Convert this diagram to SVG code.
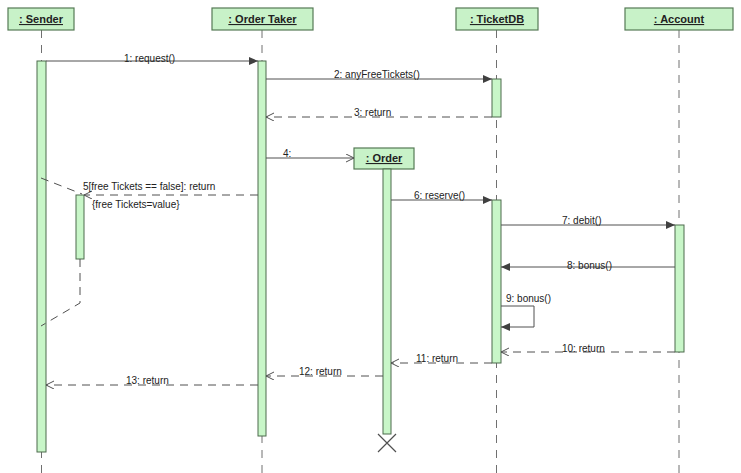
<svg xmlns="http://www.w3.org/2000/svg" width="741" height="473" viewBox="0 0 741 473">
<defs>
<style>
.hdr{fill:#c8f2c8;stroke:#557a55;stroke-width:1.2}
.act{fill:#c8f6c8;stroke:#4d6b4d;stroke-width:1}
.ll{stroke:#707070;stroke-width:1;stroke-dasharray:8,7;fill:none}
.msg{stroke:#505050;stroke-width:1;fill:none}
.ret{stroke:#505050;stroke-width:1;fill:none;stroke-dasharray:8,6}
.ht{font-family:"Liberation Sans",Arial,sans-serif;font-size:11px;font-weight:bold;text-decoration:underline;fill:#222;text-anchor:middle}
.lb{font-family:"Liberation Sans",Arial,sans-serif;font-size:10px;fill:#222}
</style>
<marker id="fill" markerWidth="10" markerHeight="10" refX="9" refY="4" orient="auto" markerUnits="userSpaceOnUse">
<path d="M0,0 L9,4 L0,8 Z" fill="#404040"/>
</marker>
<marker id="open" markerWidth="10" markerHeight="10" refX="8" refY="4" orient="auto" markerUnits="userSpaceOnUse">
<path d="M0,0 L8,4 L0,8" fill="none" stroke="#505050" stroke-width="1"/>
</marker>
</defs>
<rect width="741" height="473" fill="#ffffff"/>

<g id="sender">
<line class="ll" x1="41.5" y1="30" x2="41.5" y2="473"/>
<rect class="hdr" x="8" y="8" width="66" height="22"/>
<text class="ht" x="41" y="23">: Sender</text>
<rect class="act" x="37" y="61" width="9" height="391"/>
<rect class="act" x="76" y="195" width="8" height="64"/>
</g>

<g id="ordertaker">
<line class="ll" x1="262" y1="30" x2="262" y2="473"/>
<rect class="hdr" x="212" y="8" width="101" height="22"/>
<text class="ht" x="262.5" y="23">: Order Taker</text>
<rect class="act" x="258" y="61" width="8" height="375"/>
</g>

<g id="ticketdb">
<line class="ll" x1="496.5" y1="30" x2="496.5" y2="473"/>
<rect class="hdr" x="456" y="8" width="82" height="22"/>
<text class="ht" x="497" y="23">: TicketDB</text>
<rect class="act" x="492" y="79" width="9" height="38"/>
<rect class="act" x="492" y="200" width="9" height="163"/>
</g>

<g id="account">
<line class="ll" x1="679" y1="30" x2="679" y2="473"/>
<rect class="hdr" x="625" y="8" width="108" height="22"/>
<text class="ht" x="679" y="23">: Account</text>
<rect class="act" x="675" y="225" width="9" height="127"/>
</g>

<g id="order">
<rect class="hdr" x="354" y="148" width="60" height="21"/>
<text class="ht" x="384" y="162">: Order</text>
<rect class="act" x="383" y="169" width="8" height="265"/>
<path d="M378,434 L396,452 M396,434 L378,452" stroke="#505050" stroke-width="1.2" fill="none"/>
</g>

<g id="connectors">
<line class="msg" x1="46" y1="61" x2="258" y2="61" marker-end="url(#fill)"/>
<text class="lb" x="124" y="62">1: request()</text>

<line class="msg" x1="266" y1="79" x2="492" y2="79" marker-end="url(#fill)"/>
<text class="lb" x="334" y="78">2: anyFreeTickets()</text>

<line class="ret" x1="492" y1="117" x2="266" y2="117" marker-end="url(#open)"/>
<text class="lb" x="354" y="116">3: return</text>

<line class="msg" x1="266" y1="158" x2="354" y2="158" marker-end="url(#open)"/>
<text class="lb" x="283" y="157">4:</text>

<line class="ret" x1="258" y1="195" x2="84" y2="195" marker-end="url(#open)"/>
<text class="lb" x="83" y="190">5[free Tickets == false]: return</text>
<text class="lb" x="92" y="208">{free Tickets=value}</text>
<path class="ret" d="M41,178 L82,194"/>
<path class="ret" d="M80,259 L80,303 L41,326"/>

<line class="msg" x1="391" y1="200" x2="492" y2="200" marker-end="url(#fill)"/>
<text class="lb" x="414" y="199">6: reserve()</text>

<line class="msg" x1="501" y1="225" x2="675" y2="225" marker-end="url(#fill)"/>
<text class="lb" x="562" y="224">7: debit()</text>

<line class="msg" x1="675" y1="267" x2="501" y2="267" marker-end="url(#fill)"/>
<text class="lb" x="567" y="269">8: bonus()</text>

<path class="msg" d="M501,306 L534,306 L534,327 L501,327" marker-end="url(#fill)"/>
<text class="lb" x="506" y="302">9: bonus()</text>

<line class="ret" x1="675" y1="352" x2="501" y2="352" marker-end="url(#open)"/>
<text class="lb" x="562" y="352">10: return</text>

<line class="ret" x1="492" y1="363" x2="391" y2="363" marker-end="url(#open)"/>
<text class="lb" x="416" y="362">11: return</text>

<line class="ret" x1="383" y1="376" x2="266" y2="376" marker-end="url(#open)"/>
<text class="lb" x="299" y="375">12: return</text>

<line class="ret" x1="258" y1="385" x2="46" y2="385" marker-end="url(#open)"/>
<text class="lb" x="126" y="384">13: return</text>
</g>
</svg>
